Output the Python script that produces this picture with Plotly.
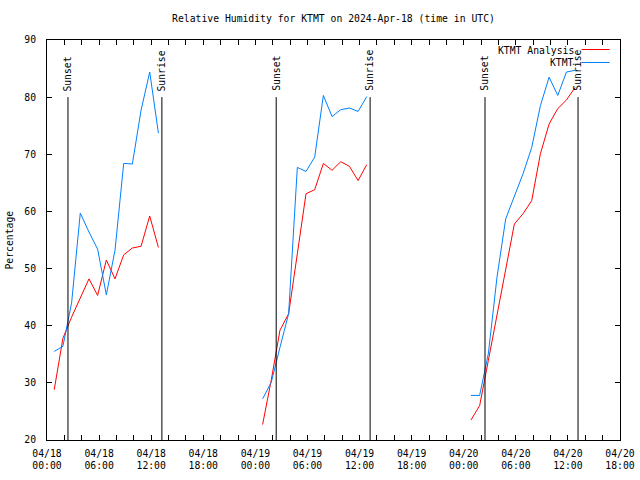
import plotly.graph_objects as go

# ---------------- data ----------------
days = ["2024-04-18", "2024-04-19", "2024-04-20"]
obs_times = ["00:50", "01:50", "02:50", "03:50", "04:50", "05:50", "06:50",
             "07:50", "08:50", "09:50", "10:50", "11:50", "12:50"]

analysis_rh = [
    [28.8, 37.8, 41.5, 45.0, 48.2, 45.3, 51.5, 48.2, 52.4, 53.6, 53.9, 59.2, 53.7],
    [22.7, 30.5, 39.2, 42.1, 52.6, 63.1, 63.8, 68.4, 67.2, 68.7, 67.9, 65.4, 68.2],
    [23.5, 26.0, 33.9, 41.8, 49.7, 57.8, 59.6, 61.9, 70.1, 75.3, 78.0, 79.5, 81.7],
]
observed_rh = [
    [35.5, 36.4, 44.0, 59.7, 56.4, 53.4, 45.4, 53.2, 68.4, 68.3, 77.7, 84.4, 73.7],
    [27.2, 30.1, 36.2, 42.1, 67.7, 67.0, 69.5, 80.3, 76.6, 77.8, 78.1, 77.5, 80.1],
    [27.8, 27.8, 35.1, 48.5, 58.7, 62.8, 66.6, 71.2, 78.5, 83.5, 80.3, 84.4, 84.7],
]

sunset_times = ["2024-04-18 02:25", "2024-04-19 02:24", "2024-04-20 02:27"]
sunrise_times = ["2024-04-18 13:14", "2024-04-19 13:13", "2024-04-20 13:10"]
sun_line_top = 80

tick_values = [f"{d} {h:02d}:00" for d in days for h in range(0, 24, 2)]
tick_values = tick_values[:tick_values.index("2024-04-20 18:00") + 1]
tick_labels = [(v[5:7] + "/" + v[8:10] + "<br>" + v[11:16]) if int(v[11:13]) % 6 == 0 else ""
               for v in tick_values]

title_text = "Relative Humidity for KTMT on 2024-Apr-18 (time in UTC)"
y_title = "Percentage"
series_names = ["KTMT Analysis", "KTMT"]
series_colors = ["#ff0000", "#0080ff"]

FONT = "DejaVu Sans Mono"
FS = 9.75


def join_days(values):
    xs, ys = [], []
    for d, vals in zip(days, values):
        xs += [f"{d} {t}" for t in obs_times] + [None]
        ys += list(vals) + [None]
    return xs, ys


fig = go.Figure()
for name, vals, col in zip(series_names, [analysis_rh, observed_rh], series_colors):
    xs, ys = join_days(vals)
    fig.add_trace(go.Scatter(x=xs, y=ys, mode="lines", name=name,
                             line=dict(color=col, width=1), connectgaps=False,
                             showlegend=False))

# sunset / sunrise markers
for times, label in [(sunset_times, "Sunset"), (sunrise_times, "Sunrise")]:
    for t in times:
        fig.add_shape(type="line", xref="x", yref="y", x0=t, x1=t, y0=20, y1=sun_line_top,
                      line=dict(color="black", width=1))
        fig.add_annotation(x=t, y=sun_line_top, xref="x", yref="y", text=label,
                           textangle=-90, showarrow=False, yanchor="bottom",
                           xanchor="center", yshift=4,
                           font=dict(family=FONT, size=FS, color="black"))

# gnuplot-style key (text left, sample right)
L, R, T, B = 47, 20, 40, 40
W, H = 640, 480
pw, ph = W - L - R, H - T - B


def px2paper_x(px):
    return (px - L) / pw


def px2paper_y(py):
    return (H - B - py) / ph


key_text_y = [50.7, 62.5]
key_line_y = [49.5, 62.5]
for i, (name, col) in enumerate(zip(series_names, series_colors)):
    fig.add_annotation(x=px2paper_x(575.5), y=px2paper_y(key_text_y[i]), xref="paper",
                       yref="paper", text=name, showarrow=False, xanchor="right",
                       yanchor="middle",
                       font=dict(family=FONT, size=FS, color="black"))
    fig.add_shape(type="line", xref="paper", yref="paper",
                  x0=px2paper_x(581.5), x1=px2paper_x(609.5),
                  y0=px2paper_y(key_line_y[i]), y1=px2paper_y(key_line_y[i]),
                  line=dict(color=col, width=1))

fig.add_annotation(x=0, y=0.5, xref="paper", yref="paper", text=y_title,
                   textangle=-90, showarrow=False, xshift=-46,
                   font=dict(family=FONT, size=FS, color="black"))

fig.update_layout(
    width=W, height=H,
    margin=dict(l=L, r=R, t=T, b=B),
    paper_bgcolor="white", plot_bgcolor="white",
    font=dict(family=FONT, size=FS, color="black"),
    title=dict(text=title_text, x=0.5, xref="paper", y=1 - 19 / H, yanchor="middle",
               xanchor="center", font=dict(family=FONT, size=FS, color="black")),
    xaxis=dict(type="date", range=["2024-04-18 00:00", "2024-04-20 18:00"],
               tickmode="array", tickvals=tick_values, ticktext=tick_labels,
               ticks="inside", ticklen=5, tickcolor="black", tickwidth=1,
               showline=True, linecolor="black", linewidth=1, mirror="allticks",
               showgrid=False, zeroline=False, automargin=False,
               ticklabelstandoff=4,
               tickfont=dict(family=FONT, size=FS, color="black")),
    yaxis=dict(range=[20, 90], dtick=10, tick0=20,
               ticks="inside", ticklen=5, tickcolor="black", tickwidth=1,
               showline=True, linecolor="black", linewidth=1, mirror="allticks",
               showgrid=False, zeroline=False, automargin=False,
               ticklabelstandoff=8,
               tickfont=dict(family=FONT, size=FS, color="black")),
)

fig.write_html("out.html", config={"displayModeBar": False},
               post_script="document.body.style.margin='0';document.body.style.padding='0';"
                           "document.body.style.overflow='hidden';")
